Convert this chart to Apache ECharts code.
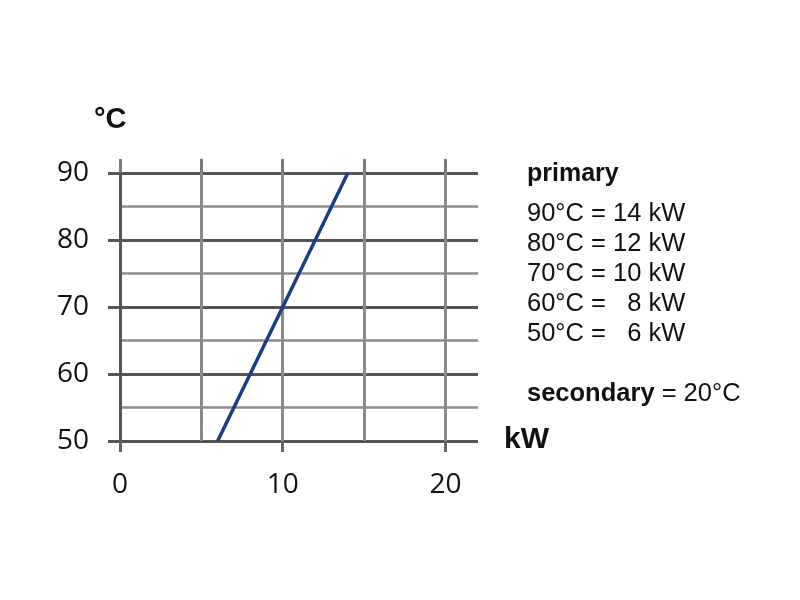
<!DOCTYPE html>
<html><head><meta charset="utf-8">
<script src="https://cdn.jsdelivr.net/npm/echarts@6/dist/echarts.min.js"></script>
<style>html,body{margin:0;padding:0;background:#fff}#c{width:800px;height:600px}</style>
</head><body><div id="c"></div>
<script>
const powerKW = [6, 8, 10, 12, 14];
const tempC = [50, 60, 70, 80, 90];
const xTickLabels = [0, 10, 20];
const topTicks = [0, 5, 10, 15, 20];
const legendTitle = 'primary';
const legendLines = ['90°C = 14 kW', '80°C = 12 kW', '70°C = 10 kW', '60°C =   8 kW', '50°C =   6 kW'];
const footerBold = 'secondary';
const footerRest = ' = 20°C';
const yUnit = '°C';
const xUnit = 'kW';

const FONT = 'Liberation Sans, Arial, sans-serif';
const AXFONT = 'Open Sans, sans-serif';
const chart = echarts.init(document.getElementById('c'));
const graphics = [
  { type: 'text', left: 94, top: 105, style: { text: yUnit, font: 'bold 29px ' + FONT, fill: '#111' } },
  { type: 'text', left: 504, top: 425, style: { text: xUnit, font: 'bold 30px ' + FONT, fill: '#111' } },
  { type: 'text', left: 527, top: 162, style: { text: legendTitle, font: 'bold 25px ' + FONT, fill: '#111' } },
  { type: 'text', left: 527, top: 381, style: {
      text: '{b|' + footerBold + '}{n|' + footerRest + '}',
      rich: { b: { font: 'bold 25.5px ' + FONT, fill: '#111' }, n: { font: '25.5px ' + FONT, fill: '#111' } } } }
];
legendLines.forEach((t, i) => {
  graphics.push({ type: 'text', left: 527, top: 201 + i * 30, style: { text: t, font: '25.5px ' + FONT, fill: '#111', whiteSpace: 'pre' } });
});

chart.setOption({
  animation: false,
  backgroundColor: '#fff',
  grid: { left: 120, right: 322, top: 173, bottom: 159, containLabel: false },
  xAxis: [{
    type: 'value', min: 0, max: 22, interval: 5,
    axisLine: { show: false },
    axisTick: { show: false },
    axisLabel: { customValues: xTickLabels, fontSize: 28, color: '#111', margin: 30, fontFamily: AXFONT },
    splitLine: { show: true, showMinLine: false, showMaxLine: false, lineStyle: { color: '#8a8a8a', width: 3 } }
  }, {
    type: 'value', position: 'top', min: 0, max: 22, interval: 5,
    axisLine: { show: false },
    axisTick: { show: true, customValues: topTicks, length: 14, lineStyle: { color: '#7a7a7a', width: 3 } },
    axisLabel: { show: false },
    splitLine: { show: false }
  }, {
    type: 'value', position: 'bottom', min: 0, max: 22, interval: 5,
    axisLine: { show: false },
    axisTick: { show: true, customValues: xTickLabels, length: 11, lineStyle: { color: '#666', width: 3 } },
    axisLabel: { show: false },
    splitLine: { show: false }
  }],
  yAxis: {
    type: 'value', min: 50, max: 90, interval: 10,
    axisLine: { show: true, lineStyle: { color: '#555', width: 3 } },
    axisTick: { show: true, length: 12, lineStyle: { color: '#555', width: 3 } },
    axisLabel: { fontSize: 28, color: '#111', margin: 31, fontFamily: AXFONT },
    splitLine: { show: true, lineStyle: { color: '#555', width: 3 } },
    minorTick: { show: false, splitNumber: 2 },
    minorSplitLine: { show: true, lineStyle: { color: '#8c8c8c', width: 2.5 } }
  },
  series: [{
    type: 'line', data: powerKW.map((p, i) => [p, tempC[i]]),
    showSymbol: false, symbol: 'none',
    lineStyle: { color: '#1a3f80', width: 3.5 }, z: 10
  }],
  graphic: graphics
});
</script></body></html>
